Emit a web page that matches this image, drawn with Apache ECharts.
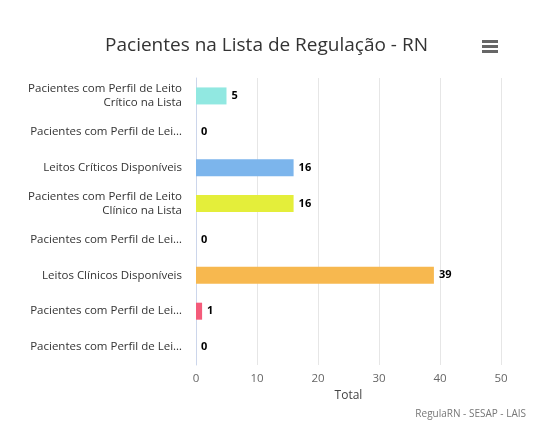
<!DOCTYPE html>
<html><head><meta charset="utf-8">
<script src="https://cdn.jsdelivr.net/npm/echarts@6/dist/echarts.min.js"></script>
<style>html,body{margin:0;padding:0;background:#fff}#c{width:533px;height:443px}</style>
</head><body><div id="c"></div>
<script>
var categories = [
  'Pacientes com Perfil de Leito\nCrítico na Lista',
  'Pacientes com Perfil de Lei…',
  'Leitos Críticos Disponíveis',
  'Pacientes com Perfil de Leito\nClínico na Lista',
  'Pacientes com Perfil de Lei…',
  'Leitos Clínicos Disponíveis',
  'Pacientes com Perfil de Lei…',
  'Pacientes com Perfil de Lei…'
];
var values = [5, 0, 16, 16, 0, 39, 1, 0];
var colors = ['#91e8e1', '#434348', '#7cb5ec', '#e4ee3a', '#8085e9', '#f7b84f', '#f45b7a', '#2b908f'];
var xTicks = [0, 10, 20, 30, 40, 50];

var chart = echarts.init(document.getElementById('c'));
var font = '"Open Sans", "DejaVu Sans", sans-serif';
chart.setOption({
  animation: false,
  textStyle: { fontFamily: font },
  title: {
    text: 'Pacientes na Lista de Regulação - RN',
    left: 'center', top: 31,
    textStyle: { fontSize: 19, fontWeight: 'normal', color: '#333', fontFamily: font }
  },
  grid: { left: 196, right: 32, top: 78, bottom: 78 },
  xAxis: {
    type: 'value', min: xTicks[0], max: xTicks[xTicks.length - 1], interval: 10,
    name: 'Total', nameLocation: 'middle', nameGap: 22,
    nameTextStyle: { fontSize: 12, color: '#444' },
    axisLabel: { fontSize: 11.5, color: '#666' },
    splitLine: { lineStyle: { color: '#e6e6e6' } },
    axisLine: { show: false }, axisTick: { show: false }
  },
  yAxis: {
    type: 'category', inverse: true, data: categories,
    axisLabel: { fontSize: 11.5, color: '#333', align: 'right', lineHeight: 14, margin: 14 },
    axisLine: { lineStyle: { color: '#ccd6eb' } },
    axisTick: { show: false }
  },
  series: [{
    type: 'bar', barWidth: 17,
    data: values.map(function (v, i) { return { value: v, itemStyle: { color: colors[i] } }; }),
    label: { show: true, position: 'right', fontSize: 11, fontWeight: 'bold', color: '#000', distance: 5 }
  }],
  graphic: [
    { type: 'rect', shape: { x: 482, y: 40, width: 16, height: 3 }, style: { fill: '#666' } },
    { type: 'rect', shape: { x: 482, y: 45, width: 16, height: 3 }, style: { fill: '#666' } },
    { type: 'rect', shape: { x: 482, y: 50, width: 16, height: 3 }, style: { fill: '#666' } },
    { type: 'text', right: 7, top: 409, style: { text: 'RegulaRN - SESAP - LAIS', fontSize: 10, fill: '#777', fontFamily: font } }
  ]
});
</script></body></html>
